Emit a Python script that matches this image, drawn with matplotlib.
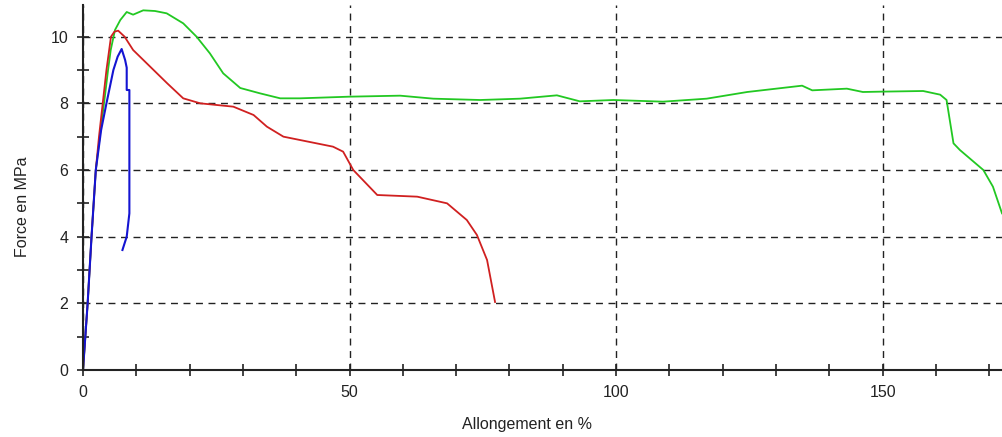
import matplotlib
matplotlib.use('Agg')
import matplotlib.pyplot as plt
from matplotlib.ticker import MultipleLocator

plt.rcParams['font.family'] = ['Liberation Sans', 'DejaVu Sans']

# courbe verte
xg = [0, 0.87, 1.6, 2.4, 3.3, 4.1, 4.7, 5.2, 6.0, 7.0, 8.2, 9.4, 11.3, 13.5, 15.7,
      18.8, 21.3, 23.8, 26.3, 29.5, 33.2, 37, 40.7, 50, 59.5, 65.7, 74.5, 82, 88.9,
      93.2, 99.5, 108.8, 117, 124.6, 134.9, 136.8, 143.3, 146.3, 149.5, 157.6, 160.8,
      162, 163.3, 164.5, 168.9, 170.7, 172.4]
yg = [0, 2.0, 4.0, 6.0, 7.2, 8.2, 9.0, 9.6, 10.2, 10.5, 10.74, 10.66, 10.79, 10.77,
      10.7, 10.4, 10.0, 9.5, 8.9, 8.46, 8.3, 8.15, 8.15, 8.2, 8.23, 8.14, 8.1, 8.14,
      8.24, 8.06, 8.1, 8.05, 8.14, 8.34, 8.53, 8.39, 8.44, 8.34, 8.35, 8.37, 8.26,
      8.1, 6.8, 6.6, 6.0, 5.5, 4.7]

# courbe rouge
xr = [0, 0.87, 1.6, 2.4, 3.0, 3.7, 4.4, 5.25, 5.9, 6.6, 7.8, 9.4, 12.6, 15.8, 18.8,
      22, 28.2, 32, 34.5, 37.6, 40.7, 46.9, 48.8, 50.7, 55.2, 62.7, 68.3, 72, 73.9,
      75.8, 77.3]
yr = [0, 2.0, 4.0, 6.0, 7.0, 8.0, 9.0, 10.0, 10.15, 10.18, 10.0, 9.6, 9.1, 8.6, 8.15,
      8.0, 7.9, 7.65, 7.3, 7.0, 6.9, 6.7, 6.55, 6.0, 5.25, 5.2, 5.0, 4.5, 4.05, 3.3, 2.04]

# courbe bleue
xb = [0, 0.87, 1.6, 2.4, 3.4, 4.4, 5.7, 6.5, 7.25, 7.9, 8.2, 8.2, 8.7, 8.7, 8.2, 7.4]
yb = [0, 2.0, 4.0, 6.0, 7.2, 8.0, 9.0, 9.4, 9.63, 9.3, 9.07, 8.4, 8.4, 4.7, 4.0, 3.6]

fig = plt.figure(figsize=(10.02, 4.37), dpi=100)
ax = fig.add_axes([83/1002, 67/437, 919/1002, 365/437])

ax.plot(xg, yg, color='#22c822', lw=1.3)
ax.plot(xr, yr, color='#d02020', lw=1.3)
ax.plot(xb, yb, color='#1414d2', lw=1.5)

ax.set_xlim(0, 172.4)
ax.set_ylim(0, 10.95)
ax.xaxis.set_major_locator(MultipleLocator(50))
ax.xaxis.set_minor_locator(MultipleLocator(10))
ax.yaxis.set_major_locator(MultipleLocator(2))
ax.yaxis.set_minor_locator(MultipleLocator(1))
ax.tick_params(which='both', direction='inout', length=9, width=1.2, labelsize=11.5,
               colors='#222222')
ax.tick_params(axis='x', pad=6)
ax.tick_params(axis='y', pad=6)

for s in ['top', 'right']:
    ax.spines[s].set_visible(False)
for s in ['left', 'bottom']:
    ax.spines[s].set_linewidth(1.5)
    ax.spines[s].set_color('#222222')

ax.grid(True, which='major', color='#222222', linestyle=(0, (5, 4)), lw=1.0)
ax.set_axisbelow(True)

ax.set_xlabel('Allongement en %', fontsize=11.5, color='#222222')
ax.set_ylabel('Force en MPa', fontsize=11.5, color='#222222')
ax.xaxis.set_label_coords(0.483, -0.15)
ax.yaxis.set_label_coords(-0.066, 0.447)
ax.xaxis.label.set_va('center')
ax.yaxis.label.set_va('center')

fig.savefig('out.png', dpi=100)
